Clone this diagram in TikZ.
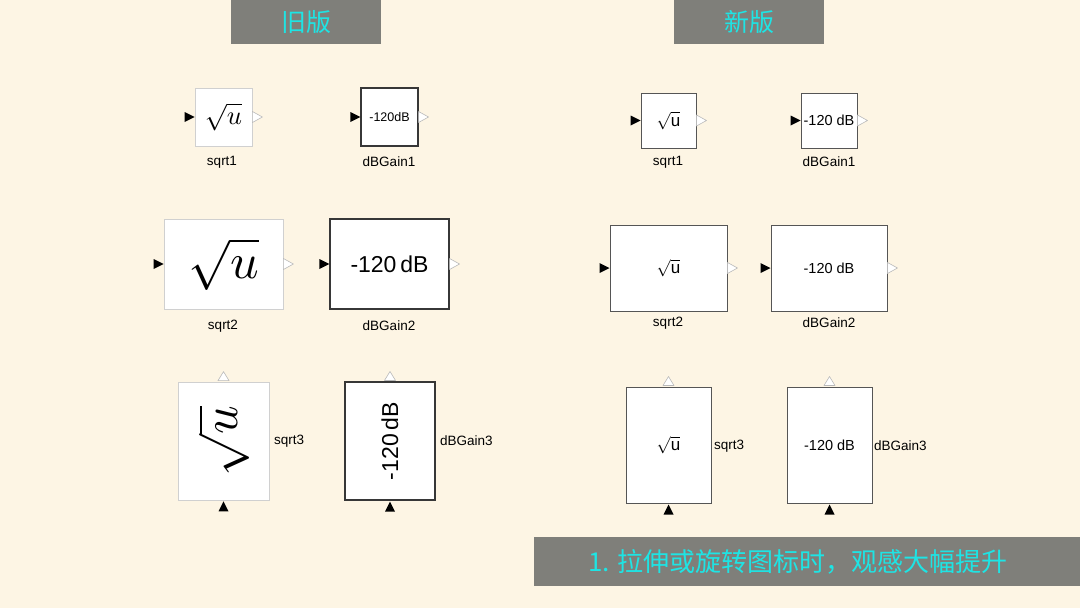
\documentclass[tikz,border=0pt]{standalone}
\usepackage{graphicx}
\usepackage{fontspec}
\setmainfont{Liberation Sans}
\newfontfamily\cjkfont{Noto Sans CJK SC}
\definecolor{bgcream}{RGB}{253,245,228}
\definecolor{bannergray}{RGB}{127,127,122}
\definecolor{titlecyan}{RGB}{30,228,228}
\definecolor{lightedge}{RGB}{208,208,208}
\definecolor{darkedge}{RGB}{55,55,55}
\definecolor{newedge}{RGB}{85,85,85}
\definecolor{portedge}{RGB}{185,185,185}
\tikzset{
  oldsqrt/.style={rectangle,draw=lightedge,fill=white,line width=0.8pt,inner sep=0pt},
  oldgain/.style={rectangle,draw=darkedge,fill=white,line width=1.1pt,inner sep=0pt},
  newblock/.style={rectangle,draw=newedge,fill=white,line width=1pt,inner sep=0pt},
  blocklabel/.style={font=\fontsize{13.5}{14}\selectfont,inner sep=0pt},
  inport/.style={fill=black},
  outport/.style={draw=portedge,fill=white,line width=0.6pt,line join=round},
  banner/.style={fill=bannergray,inner sep=0pt,text=titlecyan}
}
\newcommand{\leftin}[1]{\fill[inport] (#1.west) -- ++(-10,-5) -- ++(0,10) -- cycle;}
\newcommand{\rightout}[1]{\filldraw[outport] (#1.east) ++(0,-5.5) -- ++(10,5.5) -- ++(-10,5.5) -- cycle;}
\newcommand{\bottomin}[1]{\fill[inport] (#1.south) ++(0,1) -- ++(-5,10) -- ++(10,0) -- cycle;}
\newcommand{\topout}[1]{\filldraw[outport] (#1.north) ++(-5.5,-1) -- ++(5.5,-9) -- ++(5.5,9) -- cycle;}
\newcommand{\fs}[1]{\fontsize{#1}{#1}\selectfont}
\newcommand{\bigroot}[1]{\scalebox{#1}{$\sqrt{u}$}}
\newcommand{\sansroot}{\scalebox{1.7}{$\sqrt{\mbox{u}}$}}

\begin{document}
\begin{tikzpicture}[x=1pt,y=-1pt]
  \fill[bgcream] (0,0) rectangle (1080,608);
  \useasboundingbox (0,0) rectangle (1080,608);

  % headings
  \node[banner,minimum width=150pt,minimum height=44pt] (oldhead) at (306,22) {\cjkfont\fs{25}旧版};
  \node[banner,minimum width=150pt,minimum height=44pt] (newhead) at (749,22) {\cjkfont\fs{25}新版};
  \node[banner,minimum width=546pt,minimum height=49pt] (tipbar) at (807,561.5) {};
  \node[text=titlecyan,inner sep=0pt] (tiptext) at (798,562) {\cjkfont\fs{26}1. 拉伸或旋转图标时，观感大幅提升};

  % old blocks
  \node[oldsqrt,minimum width=57pt,minimum height=58pt] (osq1) at (223.5,117) {\bigroot{2.65}};
  \node[oldgain,minimum width=57pt,minimum height=58pt] (odb1) at (389.5,117) {\fs{12.5}-120dB};
  \node[oldsqrt,minimum width=119pt,minimum height=90pt] (osq2) at (223.5,264) {\bigroot{5}};
  \node[oldgain,minimum width=119pt,minimum height=90pt] (odb2) at (389.5,264) {\fs{23}-120\,dB};
  \node[oldsqrt,minimum width=91pt,minimum height=118pt] (osq3) at (223.5,441) {};
  \node[rotate=90,inner sep=0pt] (osq3txt) at (223.5,441) {\bigroot{5}};
  \node[oldgain,minimum width=90pt,minimum height=118pt] (odb3) at (390,441) {};
  \node[rotate=90,inner sep=0pt] (odb3txt) at (390,441) {\fs{23}-120\,dB};

  \leftin{osq1} \rightout{osq1}
  \leftin{odb1} \rightout{odb1}
  \leftin{osq2} \rightout{osq2}
  \leftin{odb2} \rightout{odb2}
  \bottomin{osq3} \topout{osq3}
  \bottomin{odb3} \topout{odb3}

  \node[blocklabel] (losq1) at (222,162) {sqrt1};
  \node[blocklabel] (lodb1) at (389,162) {dBGain1};
  \node[blocklabel] (losq2) at (223,326) {sqrt2};
  \node[blocklabel] (lodb2) at (389,326) {dBGain2};
  \node[blocklabel,anchor=west] (losq3) at (274,441) {sqrt3};
  \node[blocklabel,anchor=west] (lodb3) at (440,441) {dBGain3};

  % new blocks
  \node[newblock,minimum width=55pt,minimum height=55pt] (nsq1) at (668.5,120.5) {\sansroot};
  \node[newblock,minimum width=56pt,minimum height=55pt] (ndb1) at (829,120.5) {\fs{14.5}-120 dB};
  \node[newblock,minimum width=117pt,minimum height=86pt] (nsq2) at (668.5,268) {\sansroot};
  \node[newblock,minimum width=116pt,minimum height=86pt] (ndb2) at (829,268) {\fs{14.5}-120 dB};
  \node[newblock,minimum width=85pt,minimum height=116pt] (nsq3) at (668.5,445) {\sansroot};
  \node[newblock,minimum width=85pt,minimum height=116pt] (ndb3) at (829.5,445) {\fs{14.5}-120 dB};

  \leftin{nsq1} \rightout{nsq1}
  \leftin{ndb1} \rightout{ndb1}
  \leftin{nsq2} \rightout{nsq2}
  \leftin{ndb2} \rightout{ndb2}
  \bottomin{nsq3} \topout{nsq3}
  \bottomin{ndb3} \topout{ndb3}

  \node[blocklabel] (lnsq1) at (668,162) {sqrt1};
  \node[blocklabel] (lndb1) at (829,162) {dBGain1};
  \node[blocklabel] (lnsq2) at (668,323) {sqrt2};
  \node[blocklabel] (lndb2) at (829,323) {dBGain2};
  \node[blocklabel,anchor=west] (lnsq3) at (714,446) {sqrt3};
  \node[blocklabel,anchor=west] (lndb3) at (874,446) {dBGain3};
\end{tikzpicture}
\end{document}
